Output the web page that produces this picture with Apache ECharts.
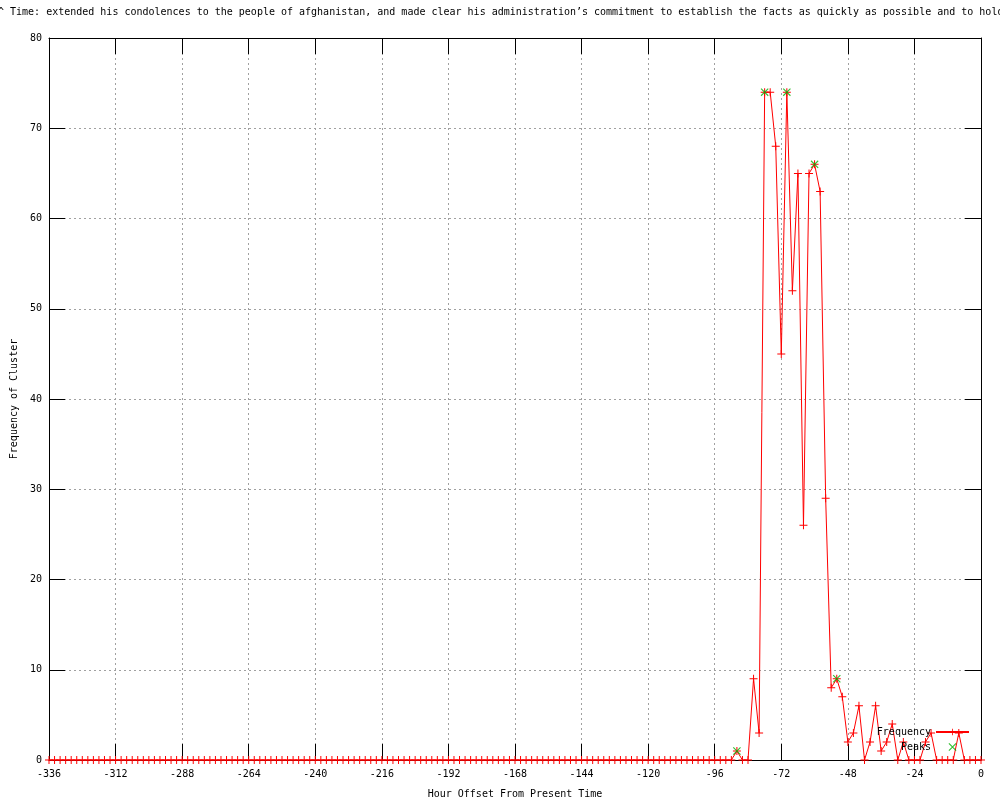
<!DOCTYPE html>
<html>
<head>
<meta charset="utf-8">
<script src="https://cdn.jsdelivr.net/npm/echarts@6/dist/echarts.min.js"></script>
<style>
    html, body { margin: 0; padding: 0; background: #fff; }
    #chart { width: 1000px; height: 800px; }
</style>
</head>
<body>
<div id="chart"></div>
<script>
"use strict";

// hour offsets, one row = 24 hours
var hours = [
    -336, -334, -332, -330, -328, -326, -324, -322, -320, -318, -316, -314,
    -312, -310, -308, -306, -304, -302, -300, -298, -296, -294, -292, -290,
    -288, -286, -284, -282, -280, -278, -276, -274, -272, -270, -268, -266,
    -264, -262, -260, -258, -256, -254, -252, -250, -248, -246, -244, -242,
    -240, -238, -236, -234, -232, -230, -228, -226, -224, -222, -220, -218,
    -216, -214, -212, -210, -208, -206, -204, -202, -200, -198, -196, -194,
    -192, -190, -188, -186, -184, -182, -180, -178, -176, -174, -172, -170,
    -168, -166, -164, -162, -160, -158, -156, -154, -152, -150, -148, -146,
    -144, -142, -140, -138, -136, -134, -132, -130, -128, -126, -124, -122,
    -120, -118, -116, -114, -112, -110, -108, -106, -104, -102, -100, -98,
    -96, -94, -92, -90, -88, -86, -84, -82, -80, -78, -76, -74,
    -72, -70, -68, -66, -64, -62, -60, -58, -56, -54, -52, -50,
    -48, -46, -44, -42, -40, -38, -36, -34, -32, -30, -28, -26,
    -24, -22, -20, -18, -16, -14, -12, -10, -8, -6, -4, -2,
    0
];

var frequency = [
    0, 0, 0, 0, 0, 0, 0, 0, 0, 0, 0, 0,
    0, 0, 0, 0, 0, 0, 0, 0, 0, 0, 0, 0,
    0, 0, 0, 0, 0, 0, 0, 0, 0, 0, 0, 0,
    0, 0, 0, 0, 0, 0, 0, 0, 0, 0, 0, 0,
    0, 0, 0, 0, 0, 0, 0, 0, 0, 0, 0, 0,
    0, 0, 0, 0, 0, 0, 0, 0, 0, 0, 0, 0,
    0, 0, 0, 0, 0, 0, 0, 0, 0, 0, 0, 0,
    0, 0, 0, 0, 0, 0, 0, 0, 0, 0, 0, 0,
    0, 0, 0, 0, 0, 0, 0, 0, 0, 0, 0, 0,
    0, 0, 0, 0, 0, 0, 0, 0, 0, 0, 0, 0,
    0, 0, 0, 0, 1, 0, 0, 9, 3, 74, 74, 68,
    45, 74, 52, 65, 26, 65, 66, 63, 29, 8, 9, 7,
    2, 3, 6, 0, 2, 6, 1, 2, 4, 0, 2, 0,
    0, 0, 2, 3, 0, 0, 0, 0, 3, 0, 0, 0,
    0
];

var peakHours = [-88, -78, -70, -60, -52];
var peakValues = [1, 74, 74, 66, 9];

var titleText = "^ Time: extended his condolences to the people of afghanistan, and made clear his administration\u2019s commitment to establish the facts as quickly as possible and to hold";

var mono = "DejaVu Sans Mono";
var plusIcon = "path://M0,3.5h8v1h-8zM3.5,0h1v8h-1z";
var crossIcon = "path://M0,0.8L0.8,0L8,7.2L7.2,8ZM7.2,0L8,0.8L0.8,8L0,7.2Z";

var freqData = hours.map(function (h, i) { return [h, frequency[i]]; });
var peakData = peakHours.map(function (h, i) { return [h, peakValues[i]]; });

var gridLine = { show: true, lineStyle: { color: "#a0a0a0", type: [2, 3], width: 1 } };
// onZero off, otherwise the mirror axes collapse onto the 0 lines
var frameLine = { show: true, onZero: false, lineStyle: { color: "#000", width: 1 } };
var inTick = { show: true, inside: true, length: 16, lineStyle: { color: "#000" } };

var chart = echarts.init(document.getElementById("chart"), null, { renderer: "canvas" });

chart.setOption({
    animation: false,
    backgroundColor: "#fff",
    textStyle: { fontFamily: mono },
    title: {
        text: titleText,
        left: -2,
        top: 7,
        padding: 0,
        textStyle: { fontFamily: mono, fontSize: 10, fontWeight: "normal", color: "#000" }
    },
    legend: {
        orient: "vertical",
        right: 30,
        top: 727,
        align: "right",
        itemWidth: 33,
        itemHeight: 8,
        itemGap: 5,
        padding: 0,
        textStyle: { fontFamily: mono, fontSize: 10, color: "#000" },
        data: ["Frequency", "Peaks"]
    },
    grid: { left: 49, right: 19, top: 38, bottom: 40, outerBoundsMode: "none" },
    xAxis: [{
        type: "value",
        min: -336,
        max: 0,
        interval: 24,
        position: "bottom",
        name: "Hour Offset From Present Time",
        nameLocation: "middle",
        nameGap: 29,
        nameTextStyle: { fontFamily: mono, fontSize: 10, color: "#000" },
        axisLine: frameLine,
        axisTick: inTick,
        axisLabel: { margin: 9, fontFamily: mono, fontSize: 10, color: "#000" },
        splitLine: gridLine
    }, {
        type: "value",
        min: -336,
        max: 0,
        interval: 24,
        position: "top",
        axisLine: frameLine,
        axisTick: inTick,
        axisLabel: { show: false },
        splitLine: { show: false }
    }],
    yAxis: [{
        type: "value",
        min: 0,
        max: 80,
        interval: 10,
        position: "left",
        name: "Frequency of Cluster",
        nameLocation: "middle",
        nameGap: 30,
        nameTextStyle: { fontFamily: mono, fontSize: 10, color: "#000" },
        axisLine: frameLine,
        axisTick: inTick,
        axisLabel: { margin: 7, fontFamily: mono, fontSize: 10, color: "#000" },
        splitLine: gridLine
    }, {
        type: "value",
        min: 0,
        max: 80,
        interval: 10,
        position: "right",
        axisLine: frameLine,
        axisTick: inTick,
        axisLabel: { show: false },
        splitLine: { show: false }
    }],
    series: [{
        name: "Frequency",
        type: "line",
        data: freqData,
        symbol: plusIcon,
        symbolSize: 8,
        showAllSymbol: true,
        clip: false,
        lineStyle: { color: "#ff0000", width: 1 },
        itemStyle: { color: "#ff0000" },
        z: 3
    }, {
        name: "Peaks",
        type: "scatter",
        data: peakData,
        symbol: crossIcon,
        symbolSize: 8,
        itemStyle: { color: "#00b000" },
        z: 4
    }]
});
</script>
</body>
</html>
